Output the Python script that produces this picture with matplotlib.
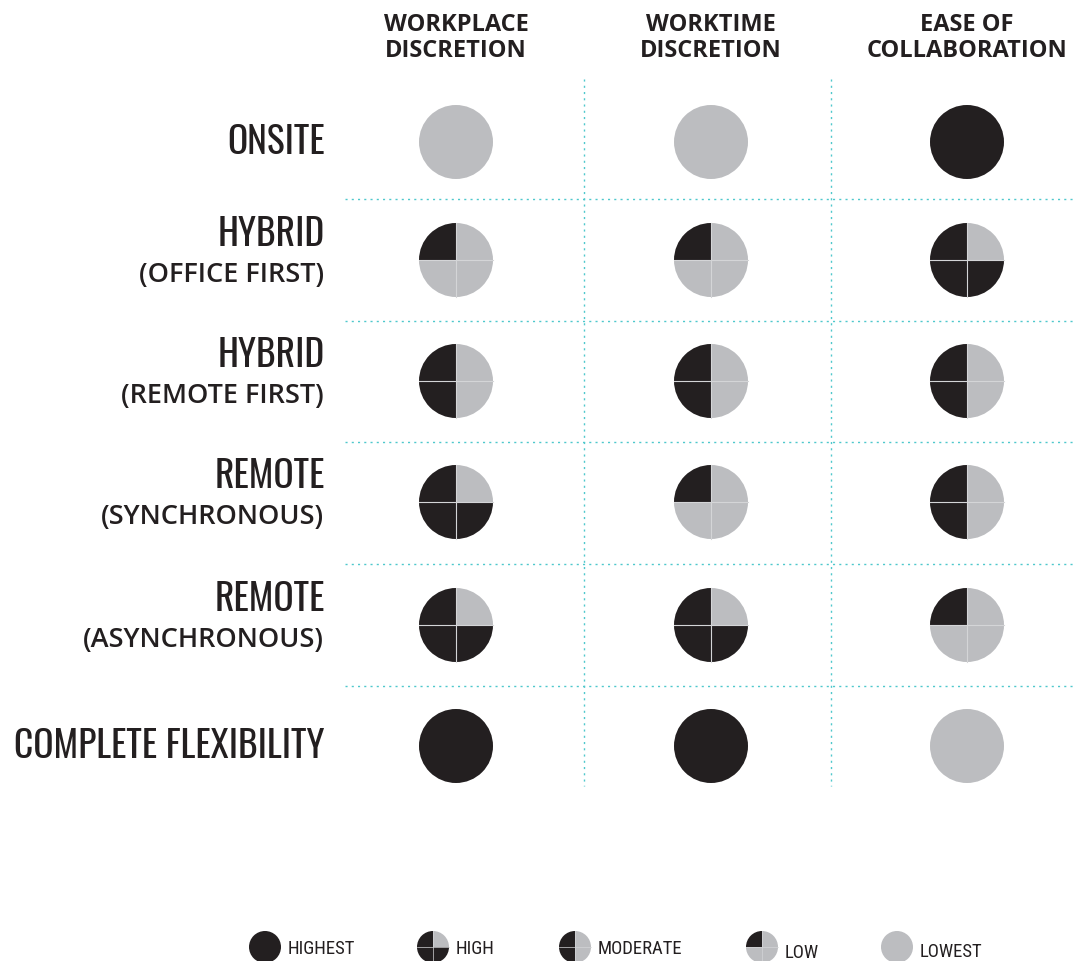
import matplotlib.pyplot as plt
from matplotlib.patches import Wedge, Circle

# data
columns = [("WORKPLACE", "DISCRETION"), ("WORKTIME", "DISCRETION"), ("EASE OF", "COLLABORATION")]
row_titles = ["ONSITE", "HYBRID", "HYBRID", "REMOTE", "REMOTE", "COMPLETE FLEXIBILITY"]
row_subtitles = ["", "(OFFICE FIRST)", "(REMOTE FIRST)", "(SYNCHRONOUS)", "(ASYNCHRONOUS)", ""]
# 0 = lowest, 1 = low, 2 = moderate, 3 = high, 4 = highest
levels = [
    [0, 0, 4],
    [1, 1, 3],
    [2, 2, 2],
    [3, 1, 2],
    [3, 3, 1],
    [4, 4, 0],
]
legend_levels = [4, 3, 2, 1, 0]
legend_labels = ["HIGHEST", "HIGH", "MODERATE", "LOW", "LOWEST"]

DARK = "#231f20"
GREY = "#bcbdc0"
TEAL = "#4fc8cc"
DIVIDER = "#d4d5d7"

# quarters filled black for each level, keyed by start angle of each quarter
# (TL=90, BL=180, BR=270, TR=0)
black_quarters = {1: [90], 2: [90, 180], 3: [90, 180, 270]}


def draw_harvey(ax, x, y, r, level, lw=0.8):
    if level == 0 or level == 4:
        ax.add_patch(Circle((x, y), r, color=GREY if level == 0 else DARK, lw=0))
        return
    for start in [0, 90, 180, 270]:
        c = DARK if start in black_quarters[level] else GREY
        # y axis is inverted, so flip angles
        ax.add_patch(Wedge((x, y), r, -start - 90, -start, facecolor=c, lw=0))
    # thin dividers between the quarters
    ax.plot([x - r, x + r], [y, y], color=DIVIDER, lw=lw)
    ax.plot([x, x], [y - r, y + r], color=DIVIDER, lw=lw)


fig = plt.figure(figsize=(10.76, 9.62), dpi=100)
ax = fig.add_axes([0, 0, 1, 1])
ax.set_xlim(0, 1076)
ax.set_ylim(962, 0)
ax.axis("off")

col_x = [456, 711, 967]
row_y = [143, 261, 382, 503, 626, 747]
r = 37

# dotted grid
for xv in [584, 831]:
    ax.plot([xv, xv], [80, 787], ls=(0, (1.5, 3)), color=TEAL, lw=1)
for yv in [200, 322, 443, 565, 687]:
    ax.plot([345, 1076], [yv, yv], ls=(0, (1.5, 3)), color=TEAL, lw=1)

for cx, (l1, l2) in zip(col_x, columns):
    ax.text(cx, 25, l1, ha="center", va="center", fontsize=17, fontweight="bold",
            family="Open Sans", color=DARK)
    ax.text(cx, 51, l2, ha="center", va="center", fontsize=17, fontweight="bold",
            family="Open Sans", color=DARK)

for ry, title, sub in zip(row_y, row_titles, row_subtitles):
    if sub:
        ax.text(325, ry - 26, title, ha="right", va="center", fontsize=27,
                family="Oswald", color=DARK)
        ax.text(324, ry + 14, sub, ha="right", va="center", fontsize=19.5,
                family="Open Sans", fontweight="semibold", color=DARK)
    else:
        ax.text(325, ry, title, ha="right", va="center", fontsize=27,
                family="Oswald", color=DARK)

for ri, row in enumerate(levels):
    for ci, lv in enumerate(row):
        draw_harvey(ax, col_x[ci], row_y[ri], r, lv)

# legend
leg_x = [265, 433, 575, 762, 897]
leg_ty = [949, 949, 949, 953, 952]
for lx, ty, lv, lab in zip(leg_x, leg_ty, legend_levels, legend_labels):
    draw_harvey(ax, lx, 948, 16, lv, lw=0.5)
    ax.text(lx + 23, ty, lab, ha="left", va="center", fontsize=13.5,
            family="Roboto Condensed", color=DARK)

fig.savefig("out.png", dpi=100)
